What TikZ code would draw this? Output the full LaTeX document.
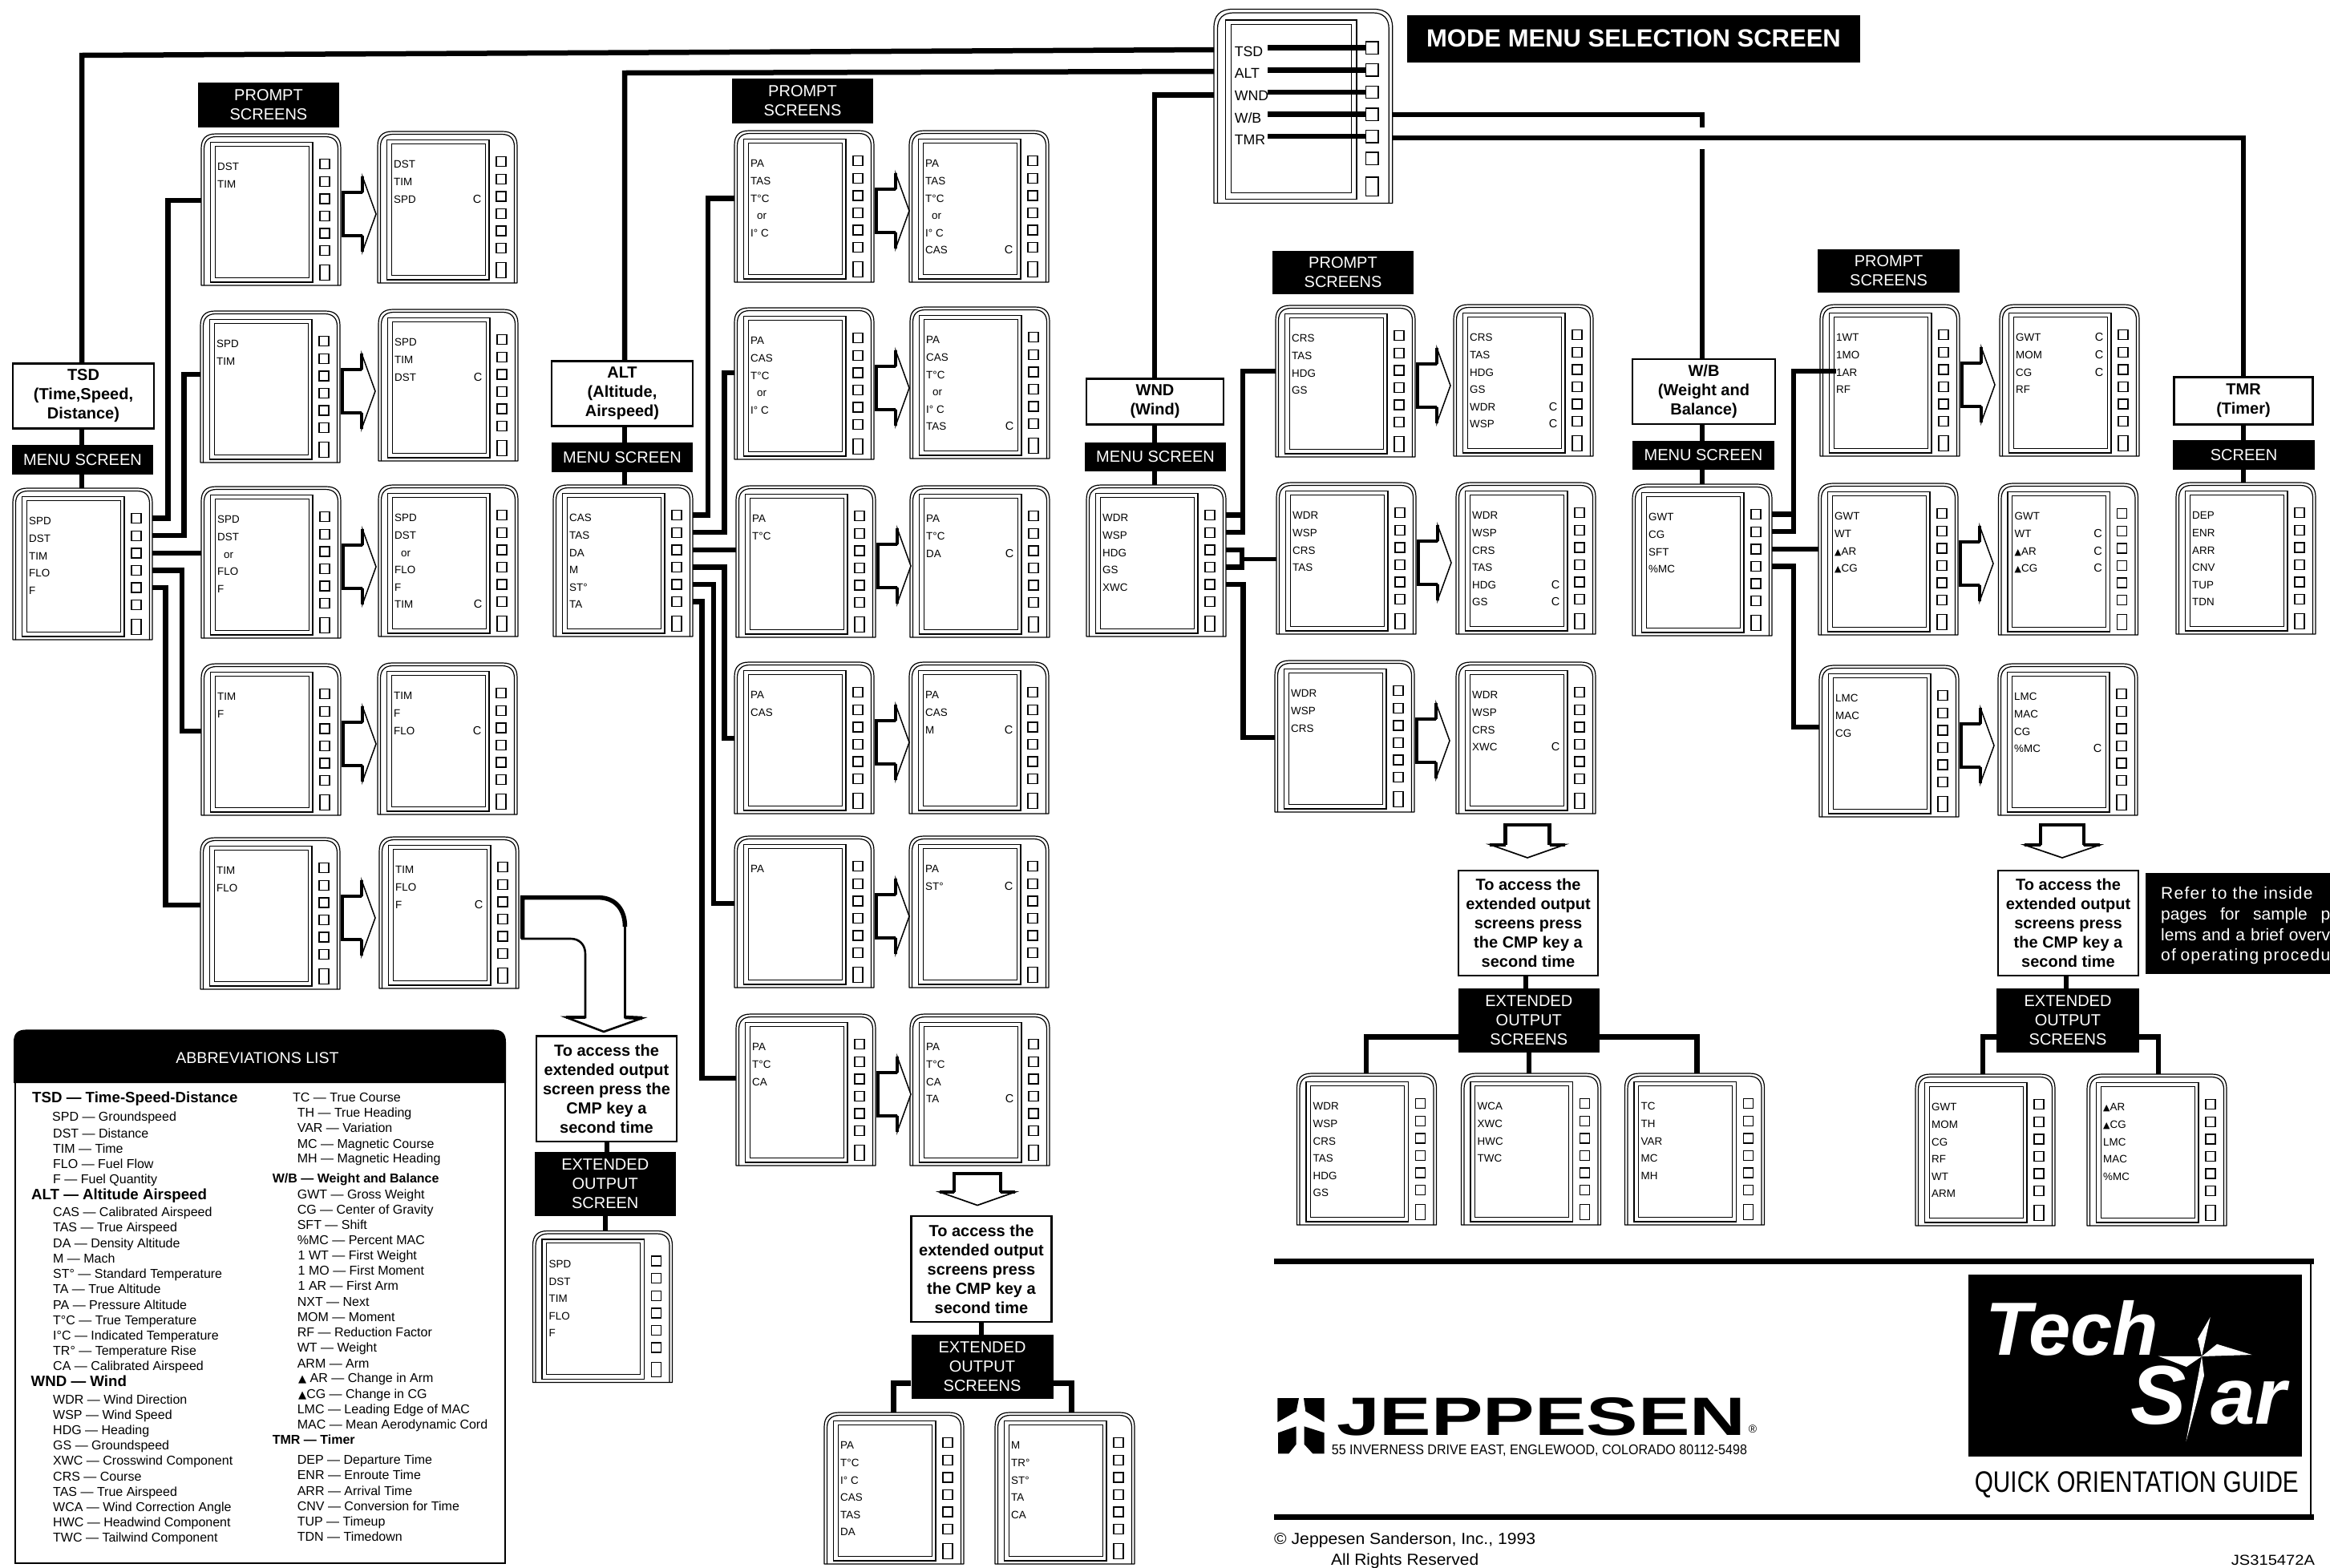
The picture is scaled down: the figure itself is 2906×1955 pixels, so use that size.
\documentclass[tikz,border=0pt]{standalone}
\usepackage{graphicx}
\usepackage{fontspec}
\setmainfont{Liberation Sans}
\newfontfamily\djf{DejaVu Sans}
\newfontfamily\refont[LetterSpace=6]{Liberation Sans}
\newcommand{\tri}{{\djf\scalebox{.82}{▲}}}
\newcount\abn
\tikzset{
  x=1pt,y=-1pt,
  shell/.style={line width=1.2pt,line join=round},
  bezel/.style={line width=1.4pt},
  lcd/.style={line width=1.0pt},
  btn/.style={draw,line width=1.4pt,inner sep=0pt},
  blank/.style={inner sep=0pt,outer sep=0pt},
  scrtxt/.style={inner sep=0pt,anchor=base west},
  conn/.style={line width=6.5pt,line cap=butt,line join=miter},
  labelbox/.style={draw,line width=2.6pt,fill=white,inner sep=0pt,align=center,font=\fontsize{20}{24}\selectfont\bfseries},
  blk/.style={fill=black,text=white,inner sep=0pt,align=center,font=\fontsize{20}{24}\selectfont},
  abtxt/.style={inner sep=0pt,anchor=base west,font=\fontsize{16}{16}\selectfont},
  abhead/.style={inner sep=0pt,anchor=base west,font=\fontsize{18.7}{18.7}\selectfont\bfseries},
  abhead2/.style={inner sep=0pt,anchor=base west,font=\fontsize{16}{16}\selectfont\bfseries},
  plain/.style={inner sep=0pt,anchor=base west},
}
% [scale]{name}{left}{top}{lines}{lines carrying a C}
\newcommand{\screen}[6][1]{%
  \begin{scope}[shift={(#3,#4)},scale=#1]
    \pgfmathsetmacro\fs{13.4*#1+(#1-1)*2}
    \node[blank,anchor=north west,minimum width={174pt*#1},minimum height={189pt*#1}] (#2) at (0,0) {};
    \draw[shell] (0,189) -- (0,18) .. controls (0,6) and (6,0) .. (18,0) -- (156,0) .. controls (168,0) and (174,6) .. (174,18) -- (174,189) -- cycle;
    \draw[shell] (3.5,189) -- (3.5,19) .. controls (3.5,9) and (9,3.5) .. (19,3.5) -- (155,3.5) .. controls (165,3.5) and (170.5,9) .. (170.5,19) -- (170.5,189);
    \draw[bezel] (11.5,10.5) rectangle (139,185);
    \draw[lcd] (17,15) rectangle (134,179);
    \foreach \k in {1,...,6}{
      \node[btn,minimum width={12pt*#1},minimum height={12pt*#1}] (#2-b\k) at (154,{37.6+21.6*(\k-1)}) {};
    }
    \node[btn,minimum width={12pt*#1},minimum height={18.5pt*#1}] (#2-b7) at (154,173) {};
    \foreach \lab [count=\k] in {#5}{
      \node[scrtxt,font=\fontsize{\fs}{\fs}\selectfont] (#2-t\k) at (20,{45.9+21.6*(\k-1)}) {\lab};
    }
    \def\tmpc{#6}
    \ifx\tmpc\empty\else
      \foreach \cl in {#6}{
        \node[inner sep=0pt,anchor=base,font=\fontsize{14.5}{14.5}\selectfont] (#2-c\cl) at (124,{45.9+21.6*(\cl-1)}) {C};
      }
    \fi
  \end{scope}
}
\newcommand{\sidearrow}[1]{%
  \begin{scope}[shift={(#1.north west)}]
    \draw[line width=1.5pt,line join=miter,fill=white] (201,53) -- (201,73) -- (177,73) -- (177,127) -- (201,127) -- (201,147) -- (218,100) -- cycle;
    \draw[line width=4.5pt,line join=miter] (201,73) -- (177,73) -- (177,127) -- (201,127);
    \draw[line width=3.5pt,line cap=butt] (201,53) -- (201,73);
    \draw[line width=3.5pt,line cap=butt] (201,127) -- (201,147);
  \end{scope}
}
% centre x, top, half stem, head base y, half head, tip y
\newcommand{\dnarrow}[6]{%
  \draw[line width=1.7pt,line join=miter,fill=white] ({#1-#3},#4) -- ({#1-#3},#2) -- ({#1+#3},#2) -- ({#1+#3},#4) -- ({#1+#5},#4) -- (#1,#6) -- ({#1-#5},#4) -- cycle;
  \draw[line width=4.5pt,line join=miter] ({#1-#3},#4) -- ({#1-#3},#2) -- ({#1+#3},#2) -- ({#1+#3},#4);
  \draw[line width=4pt] ({#1-#5},#4) -- ({#1-#3},#4);
  \draw[line width=4pt] ({#1+#5},#4) -- ({#1+#3},#4);
}
\newcommand{\abi}[4][abtxt]{%
  \global\advance\abn by 1
  \node[#1] (ab\the\abn) at (#2,{1270+#3/2.289+5.7}) {#4};
}
\begin{document}
\begin{tikzpicture}
\useasboundingbox (0,0) rectangle (2906,1955);
\fill[white] (0,0) rectangle (2906,1955);

% ---------- screens
\screen[1.28]{mode}{1514}{11.5}{TSD,ALT,WND,W/B,TMR}{}
\screen{T}{16}{609}{SPD,DST,TIM,FLO,F}{}
\screen{TP1}{251}{167}{DST,TIM}{}
\screen{TR1}{471}{164}{DST,TIM,SPD}{3}
\screen{TP2}{250}{388}{SPD,TIM}{}
\screen{TR2}{472}{386}{SPD,TIM,DST}{3}
\screen{TP3}{251}{607}{SPD,DST,\hspace*{8pt}or,FLO,F}{}
\screen{TR3}{472}{605}{SPD,DST,\hspace*{8pt}or,FLO,F,TIM}{6}
\screen{TP4}{251}{828}{TIM,F}{}
\screen{TR4}{471}{827}{TIM,F,FLO}{3}
\screen{TP5}{250}{1045}{TIM,FLO}{}
\screen{TR5}{473}{1044}{TIM,FLO,F}{3}
\screen{TX}{664.5}{1535.5}{SPD,DST,TIM,FLO,F}{}

\screen{A}{690}{605}{CAS,TAS,DA,M,ST°,TA}{}
\screen{AP1}{916}{163}{PA,TAS,T°C,\hspace*{8pt}or,I° C}{}
\screen{AR1}{1134}{163}{PA,TAS,T°C,\hspace*{8pt}or,I° C,CAS}{6}
\screen{AP2}{916}{384}{PA,CAS,T°C,\hspace*{8pt}or,I° C}{}
\screen{AR2}{1135}{383}{PA,CAS,T°C,\hspace*{8pt}or,I° C,TAS}{6}
\screen{AP3}{918}{606}{PA,T°C}{}
\screen{AR3}{1135}{606}{PA,T°C,DA}{3}
\screen{AP4}{916}{826}{PA,CAS}{}
\screen{AR4}{1134}{826}{PA,CAS,M}{3}
\screen{AP5}{916}{1043}{PA}{}
\screen{AR5}{1134}{1043}{PA,ST°}{2}
\screen{AP6}{918}{1265}{PA,T°C,CA}{}
\screen{AR6}{1135}{1265}{PA,T°C,CA,TA}{4}
\screen{AX1}{1028}{1762}{PA,T°C,I° C,CAS,TAS,DA}{}
\screen{AX2}{1241}{1762}{M,TR°,ST°,TA,CA}{}

\screen{W}{1355}{605}{WDR,WSP,HDG,GS,XWC}{}
\screen{WP1}{1591}{381}{CRS,TAS,HDG,GS}{}
\screen{WR1}{1813}{380}{CRS,TAS,HDG,GS,WDR,WSP}{5,6}
\screen{WP2}{1592}{602}{WDR,WSP,CRS,TAS}{}
\screen{WR2}{1816}{602}{WDR,WSP,CRS,TAS,HDG,GS}{5,6}
\screen{WP3}{1590}{824}{WDR,WSP,CRS}{}
\screen{WR3}{1816}{826}{WDR,WSP,CRS,XWC}{4}
\screen{WX1}{1617.5}{1339}{WDR,WSP,CRS,TAS,HDG,GS}{}
\screen{WX2}{1822.5}{1339}{WCA,XWC,HWC,TWC}{}
\screen{WX3}{2026.5}{1339}{TC,TH,VAR,MC,MH}{}

\screen{B}{2036}{604}{GWT,CG,SFT,\%MC}{}
\screen{BP1}{2270}{380}{1WT,1MO,1AR,RF}{}
\screen{BR1}{2494}{380}{GWT,MOM,CG,RF}{1,2,3}
\screen{BP2}{2268}{603}{GWT,WT,\tri AR,\tri CG}{}
\screen{BR2}{2492.5}{603}{GWT,WT,\tri AR,\tri CG}{2,3,4}
\screen{BP3}{2269}{830}{LMC,MAC,CG}{}
\screen{BR3}{2492}{828}{LMC,MAC,CG,\%MC}{4}
\screen{BX1}{2389}{1340}{GWT,MOM,CG,RF,WT,ARM}{}
\screen{BX2}{2603}{1340}{\tri AR,\tri CG,LMC,MAC,\%MC}{}
\screen{M}{2714}{602}{DEP,ENR,ARR,CNV,TUP,TDN}{}

% ---------- side arrows between screens
\foreach \s in {TP1,TP2,TP3,TP4,TP5,AP1,AP2,AP3,AP4,AP5,AP6,WP1,WP2,WP3,BP1,BP2,BP3}{\sidearrow{\s}}

% ---------- labels
\node[blk,minimum width=565pt,minimum height=59pt,font=\fontsize{31}{31}\selectfont\bfseries] (modelabel) at (2037.5,48) {MODE MENU SELECTION SCREEN};

\node[labelbox,minimum width=176pt,minimum height=80.5pt] (tbox) at (104,494) {TSD\\(Time,Speed,\\Distance)};
\node[blk,minimum width=175.5pt,minimum height=37pt] (tlabel) at (103,573.5) {MENU SCREEN};
\node[blk,minimum width=175.5pt,minimum height=55.5pt] (tprompt) at (335,131) {PROMPT\\SCREENS};

\node[labelbox,minimum width=176pt,minimum height=80.5pt] (abox) at (776,491) {ALT\\(Altitude,\\Airspeed)};
\node[blk,minimum width=176pt,minimum height=37pt] (alabel) at (776,570.5) {MENU SCREEN};
\node[blk,minimum width=175.6pt,minimum height=56pt] (aprompt) at (1001,126) {PROMPT\\SCREENS};

\node[labelbox,minimum width=171pt,minimum height=56.5pt] (wbox) at (1440.5,501) {WND\\(Wind)};
\node[blk,minimum width=175.6pt,minimum height=36.5pt] (wlabel) at (1441,570) {MENU SCREEN};
\node[blk,minimum width=176pt,minimum height=54.5pt] (wprompt) at (1675,340) {PROMPT\\SCREENS};

\node[labelbox,minimum width=178pt,minimum height=81pt] (bbox) at (2125,488.5) {W/B\\(Weight and\\Balance)};
\node[blk,minimum width=177pt,minimum height=36.5pt] (blabel) at (2124.5,568) {MENU SCREEN};
\node[blk,minimum width=177pt,minimum height=54.5pt] (bprompt) at (2355.5,338) {PROMPT\\SCREENS};

\node[labelbox,minimum width=173.5pt,minimum height=58.5pt] (mbox) at (2798,500) {TMR\\(Timer)};
\node[blk,minimum width=177pt,minimum height=37pt] (mlabel) at (2798.5,567.5) {SCREEN};

\node[labelbox,minimum width=175pt,minimum height=131.6pt] (tacc) at (756.5,1358) {To access the\\extended output\\screen press the\\CMP key a\\second time};
\node[labelbox,minimum width=175.5pt,minimum height=132pt] (aacc) at (1224,1583) {To access the\\extended output\\screens press\\the CMP key a\\second time};
\node[labelbox,minimum width=174pt,minimum height=131pt] (wacc) at (1906,1151.5) {To access the\\extended output\\screens press\\the CMP key a\\second time};
\node[labelbox,minimum width=175pt,minimum height=131pt] (bacc) at (2579.5,1151.5) {To access the\\extended output\\screens press\\the CMP key a\\second time};

\node[blk,minimum width=176.5pt,minimum height=80pt] (text) at (754.75,1477) {EXTENDED\\OUTPUT\\SCREEN};
\node[blk,minimum width=177pt,minimum height=79.5pt] (aext) at (1225,1705) {EXTENDED\\OUTPUT\\SCREENS};
\node[blk,minimum width=175.6pt,minimum height=80.5pt] (wext) at (1906.8,1273) {EXTENDED\\OUTPUT\\SCREENS};
\node[blk,minimum width=178.5pt,minimum height=80pt] (bext) at (2579,1273) {EXTENDED\\OUTPUT\\SCREENS};

% ---------- mode menu links
\coordinate (tx) at (102,69);
\coordinate (ax) at (779,91);
\coordinate (wx) at (1440,118.5);
\coordinate (bx) at (2123,143);
\coordinate (bgap1) at (2123,159);
\coordinate (bgap2) at (2123,186);
\coordinate (mx) at (2798,172);
\coordinate (ms) at (1581,0);
\draw[conn] (mode.west |- 0,62) -- (tx) -- (tx |- tbox.north);
\draw[conn] (tx |- tbox.south) -- (tx |- tlabel.north);
\draw[conn] (tx |- tlabel.south) -- (tx |- T.north);
\draw[conn] (mode.west |- 0,89) -- (ax) -- (ax |- abox.north);
\draw[conn] (ax |- abox.south) -- (ax |- alabel.north);
\draw[conn] (ax |- alabel.south) -- (ax |- A.north);
\draw[conn] (mode.west |- wx) -- (wx) -- (wx |- wbox.north);
\draw[conn] (wx |- wbox.south) -- (wx |- wlabel.north);
\draw[conn] (wx |- wlabel.south) -- (wx |- W.north);
\draw[conn] (mode.east |- bx) -- (bx) -- (bgap1);
\draw[conn] (bgap2) -- (bx |- bbox.north);
\draw[conn] (bx |- bbox.south) -- (bx |- blabel.north);
\draw[conn] (bx |- blabel.south) -- (bx |- B.north);
\draw[conn] (mode.east |- mx) -- (mx) -- (mx |- mbox.north);
\draw[conn] (mx |- mbox.south) -- (mx |- mlabel.north);
\draw[conn] (mx |- mlabel.south) -- (mx |- M.north);
\foreach \k in {1,...,5}{\draw[conn] (ms |- mode-b\k) -- (mode-b\k.west);}

% ---------- TSD links
\coordinate (t1) at (209.5,250);
\coordinate (t2) at (229.6,467);
\coordinate (t4) at (227,912);
\coordinate (t5) at (206.6,1129);
\draw[conn] (T.east |- T-b1) -- (t1 |- T-b1) -- (t1) -- (TP1.west |- t1);
\draw[conn] (T.east |- T-b2) -- (t2 |- T-b2) -- (t2) -- (TP2.west |- t2);
\draw[conn] (T.east |- T-b3) -- (TP3.west |- T-b3);
\draw[conn] (T.east |- T-b4) -- (t4 |- T-b4) -- (t4) -- (TP4.west |- t4);
\draw[conn] (T.east |- T-b5) -- (t5 |- T-b5) -- (t5) -- (TP5.west |- t5);
\draw[conn] (tacc.south -| 757,0) -- (text.north -| 757,0);
\draw[conn] (text.south -| 755,0) -- (TX.north -| 755,0);

% ---------- ALT links
\coordinate (a1) at (883,247.5);
\coordinate (a2) at (903.6,465);
\coordinate (a4) at (903.6,921);
\coordinate (a5) at (890,1127);
\coordinate (a6) at (875.5,1345);
\draw[conn] (A.east |- A-b1) -- (a1 |- A-b1) -- (a1) -- (AP1.west |- a1);
\draw[conn] (A.east |- A-b2) -- (a2 |- A-b2) -- (a2) -- (AP2.west |- a2);
\draw[conn] (A.east |- A-b3) -- (AP3.west |- A-b3);
\draw[conn] (A.east |- A-b4) -- (a4 |- A-b4) -- (a4) -- (AP4.west |- a4);
\draw[conn] (A.east |- A-b5) -- (a5 |- A-b5) -- (a5) -- (AP5.west |- a5);
\draw[conn] (A.east |- A-b6) -- (a6 |- A-b6) -- (a6) -- (AP6.west |- a6);
\coordinate (ac) at (1224,0);
\coordinate (al) at (1114.5,1725.6);
\coordinate (ar) at (1336.4,1725.6);
\draw[conn] (ac |- aacc.south) -- (ac |- aext.north);
\draw[conn] (aext.west |- al) -- (al) -- (al |- AX1.north);
\draw[conn] (aext.east |- ar) -- (ar) -- (ar |- AX2.north);

% ---------- WND links
\coordinate (w1) at (1550,463);
\coordinate (w2) at (1549,697);
\coordinate (w3) at (1550.7,920);
\draw[conn] (W.east |- W-b1) -- (w1 |- W-b1);
\draw[conn] (W.east |- W-b2) -- (w1 |- W-b2) -- (w1) -- (WP1.west |- w1);
\draw[conn] (W.east |- W-b3) -- (w2 |- W-b3) -- (w2 |- W-b4) -- (W.east |- W-b4);
\draw[line width=5pt] (w2) -- (WP2.west |- w2);
\draw[conn] (W.east |- W-b5) -- (w3 |- W-b5) -- (w3) -- (WP3.west |- w3);
\coordinate (wc) at (1903,0);
\coordinate (wl) at (1704,1293.6);
\coordinate (wr) at (2116.6,1293.6);
\draw[conn] (wc |- wacc.south) -- (wc |- wext.north);
\draw[conn] (wext.south) -- (wext.south |- WX2.north);
\draw[conn] (wext.west |- wl) -- (wl) -- (wl |- WX1.north);
\draw[conn] (wext.east |- wr) -- (wr) -- (wr |- WX3.north);

% ---------- W/B links
\coordinate (b1) at (2237,463);
\coordinate (b4) at (2237,907);
\draw[conn] (B.east |- B-b1) -- (b1 |- B-b1);
\draw[conn] (B.east |- B-b2) -- (b1 |- B-b2) -- (b1) -- (BP1-t3.west |- b1);
\draw[conn] (B.east |- B-b3) -- (BP2.west |- B-b3);
\draw[conn] (B.east |- B-b4) -- (b4 |- B-b4) -- (b4) -- (BP3.west |- b4);
\coordinate (bc) at (2577,0);
\coordinate (bl) at (2473,1293.6);
\coordinate (br) at (2692,1293.6);
\draw[conn] (bc |- bacc.south) -- (bc |- bext.north);
\draw[conn] (bext.west |- bl) -- (bl) -- (bl |- BX1.north);
\draw[conn] (bext.east |- br) -- (br) -- (br |- BX2.north);

% ---------- block arrows going down
\dnarrow{1905}{1029}{27.5}{1053.5}{47}{1070}
\dnarrow{2572}{1029}{27}{1054}{47}{1070}
\dnarrow{1219}{1464}{29}{1487}{47}{1503.5}
\draw[line width=2.6pt,line join=miter,fill=white] (651.5,1119.6) -- (746,1119.6) .. controls (768,1119.6) and (779.5,1135) .. (779.5,1156) -- (779.5,1269) -- (801,1270) -- (753,1287) -- (706,1269) -- (730,1269) -- (730,1190) .. controls (730,1178) and (722,1171) .. (712,1171) -- (651.5,1171) -- cycle;
\draw[line width=5.5pt] (651.5,1171) -- (651.5,1119.6) -- (746,1119.6) .. controls (768,1119.6) and (779.5,1135) .. (779.5,1156);
\draw[line width=4.5pt,line cap=butt] (706,1269) -- (730,1269);
\draw[line width=4.5pt,line cap=butt] (779.5,1269) -- (801,1270);

% ---------- abbreviations
\fill[black] (17,1351) -- (17,1300) .. controls (17,1289) and (22,1284.4) .. (33,1284.4) -- (615,1284.4) .. controls (626,1284.4) and (631,1289) .. (631,1300) -- (631,1351) -- cycle;
\draw[line width=2pt] (19,1351) -- (19,1950) -- (630,1950) -- (630,1351);
\node[inner sep=0pt,text=white,font=\fontsize{19.6}{19.6}\selectfont] (abtitle) at (321,1320) {ABBREVIATIONS LIST};
\abi[abhead]{40}{228}{TSD — Time-Speed-Distance}
\abi{65}{281}{SPD — Groundspeed}
\abi{66}{329}{DST — Distance}
\abi{66}{373}{TIM — Time}
\abi{66}{416}{FLO — Fuel Flow}
\abi{66}{460}{F — Fuel Quantity}
\abi[abhead]{39}{506}{ALT — Altitude Airspeed}
\abi{66}{554}{CAS — Calibrated Airspeed}
\abi{66}{598}{TAS — True Airspeed}
\abi{66}{642}{DA — Density Altitude}
\abi{66}{686}{M — Mach}
\abi{66}{730}{ST° — Standard Temperature}
\abi{66}{774}{TA — True Altitude}
\abi{66}{818}{PA — Pressure Altitude}
\abi{66}{862}{T°C — True Temperature}
\abi{66}{906}{I°C — Indicated Temperature}
\abi{66}{949}{TR° — Temperature Rise}
\abi{66}{993}{CA — Calibrated Airspeed}
\abi[abhead]{38.5}{1039}{WND — Wind}
\abi{66}{1088}{WDR — Wind Direction}
\abi{66}{1132}{WSP — Wind Speed}
\abi{66}{1176}{HDG — Heading}
\abi{66}{1220}{GS — Groundspeed}
\abi{66}{1264}{XWC — Crosswind Component}
\abi{66}{1308}{CRS — Course}
\abi{66}{1352}{TAS — True Airspeed}
\abi{66}{1395}{WCA — Wind Correction Angle}
\abi{66}{1439}{HWC — Headwind Component}
\abi{66}{1483}{TWC — Tailwind Component}
\abi{365}{226}{TC — True Course}
\abi{370.6}{270}{TH — True Heading}
\abi{370.6}{314}{VAR — Variation}
\abi{370.6}{358}{MC — Magnetic Course}
\abi{370.6}{401}{MH — Magnetic Heading}
\abi[abhead2]{339.6}{458}{W/B — Weight and Balance}
\abi{370.6}{502}{GWT — Gross Weight}
\abi{370.6}{546}{CG — Center of Gravity}
\abi{370.6}{590}{SFT — Shift}
\abi{370.6}{634}{\%MC — Percent MAC}
\abi{371.5}{678}{1 WT — First Weight}
\abi{371.5}{721}{1 MO — First Moment}
\abi{371.5}{765}{1 AR — First Arm}
\abi{370.6}{809}{NXT — Next}
\abi{370.6}{853}{MOM — Moment}
\abi{370.6}{897}{RF — Reduction Factor}
\abi{370.6}{941}{WT — Weight}
\abi{370.6}{985}{ARM — Arm}
\abi{372}{1028}{\tri\ AR — Change in Arm}
\abi{372}{1072}{\tri CG — Change in CG}
\abi{370.6}{1116}{LMC — Leading Edge of MAC}
\abi{370.6}{1160}{MAC — Mean Aerodynamic Cord}
\abi[abhead2]{339.6}{1204}{TMR — Timer}
\abi{370.6}{1261}{DEP — Departure Time}
\abi{370.6}{1305}{ENR — Enroute Time}
\abi{370.6}{1349}{ARR — Arrival Time}
\abi{370.6}{1393}{CNV — Conversion for Time}
\abi{370.6}{1436}{TUP — Timeup}
\abi{370.6}{1480}{TDN — Timedown}

% ---------- refer panel
\node[fill=black,inner sep=0pt,anchor=north west,minimum width=230.3pt,minimum height=126pt] (refer) at (2675.7,1089) {};
\node[plain,text=white,font=\fontsize{21}{21}\refont] (ref1) at (2695,1121.5) {Refer to the inside};
\node[plain,text=white,font=\fontsize{21}{21}\selectfont] (ref2) at (2695,1147.9) {\makebox[211pt][s]{pages for sample p}};
\node[plain,text=white,font=\fontsize{21}{21}\selectfont] (ref3) at (2695,1173.5) {\makebox[211pt][s]{lems and a brief overv}};
\node[plain,text=white,font=\fontsize{21}{21}\refont] (ref4) at (2695,1198.9) {\makebox[211pt][s]{of operating procedu}};

% ---------- title block
\draw[line width=7pt] (1589,1573) -- (2886,1573);
\draw[line width=7pt] (1589,1892.7) -- (2886,1892.7);
\draw[line width=2pt] (2882,1573) -- (2882,1892.7);
\node[fill=black,inner sep=0pt,anchor=north west,minimum width=416pt,minimum height=227pt] (techbox) at (2455,1590) {};
\node[plain,text=white,font=\fontsize{94}{94}\selectfont\bfseries\itshape] (tech) at (2476,1690) {Tech};
\node[plain,text=white,font=\fontsize{104}{104}\selectfont\bfseries\itshape] (st1) at (2657,1776) {S};
\node[plain,text=white,font=\fontsize{100}{100}\selectfont\bfseries\itshape] (st2) at (2757,1776) {ar};
\fill[white] (2756.7,1643) -- (2746,1692) -- (2741,1670) -- cycle;
\fill[white] (2808.6,1690) -- (2746,1692) -- (2765,1676.7) -- cycle;
\fill[white] (2726.5,1798) -- (2746,1692) -- (2749,1716) -- cycle;
\fill[white] (2692,1691.7) -- (2746,1692) -- (2727,1705) -- cycle;
\node[plain] (qog) at (2462.6,1861.7) {\resizebox{404pt}{\height}{\fontsize{37}{37}\selectfont QUICK ORIENTATION GUIDE}};

% ---------- Jeppesen logo
\begin{scope}[shift={(1580,1730)},scale=0.3333]
  \fill (40,42) -- (120,42) -- (110,92) -- (40,132) -- cycle;
  \fill (138,42) -- (215,42) -- (215,132) -- (145,92) -- cycle;
  \fill (42,172) -- (110,148) -- (110,215) -- (82,250) -- (42,250) -- cycle;
  \fill (140,148) -- (215,172) -- (215,250) -- (172,250) -- (140,215) -- cycle;
\end{scope}
\node[plain] (jep) at (1667,1790) {\resizebox{510pt}{47pt}{\bfseries JEPPESEN}};
\node[inner sep=0pt,font=\fontsize{14}{14}\selectfont] (reg) at (2186,1783) {®};
\node[plain] (addr) at (1660.7,1814) {\resizebox{518pt}{\height}{\fontsize{17.5}{17.5}\selectfont 55 INVERNESS DRIVE EAST, ENGLEWOOD, COLORADO 80112-5498}};
\node[plain] (copy) at (1589,1926) {\resizebox{326pt}{\height}{\fontsize{20}{20}\selectfont © Jeppesen Sanderson, Inc., 1993}};
\node[plain] (rights) at (1660,1952) {\resizebox{184pt}{\height}{\fontsize{20}{20}\selectfont All Rights Reserved}};
\node[plain] (js) at (2782.7,1952) {\resizebox{104pt}{\height}{\fontsize{18}{18}\selectfont JS315472A}};
\end{tikzpicture}
\end{document}
